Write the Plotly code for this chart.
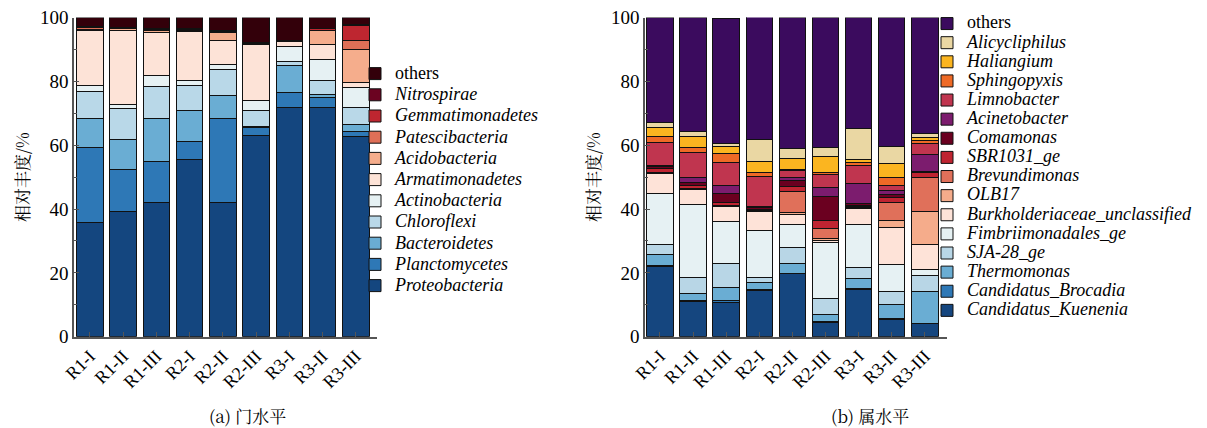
import plotly.graph_objects as go

samples = ["R1-I", "R1-II", "R1-III", "R2-I", "R2-II", "R2-III", "R3-I", "R3-II", "R3-III"]

# ---- (a) phylum level, bottom -> top
phylum_names = ["Proteobacteria", "Planctomycetes", "Bacteroidetes", "Chloroflexi", "Actinobacteria",
                "Armatimonadetes", "Acidobacteria", "Patescibacteria", "Gemmatimonadetes", "Nitrospirae", "others"]
proteobacteria = [35.9, 39.3, 42.0, 55.5, 42.0, 63.0, 71.9, 71.9, 62.7]
planctomycetes = [23.4, 13.2, 12.9, 5.6, 26.5, 2.6, 4.5, 2.9, 1.6]
bacteroidetes = [9.2, 9.4, 13.4, 9.7, 7.2, 0.2, 8.5, 1.2, 2.1]
chloroflexi = [8.3, 9.6, 10.2, 7.95, 7.9, 5.0, 1.35, 4.4, 5.5]
actinobacteria = [1.95, 1.3, 3.4, 1.65, 1.7, 3.3, 4.75, 6.6, 6.3]
armatimonadetes = [17.25, 23.0, 13.4, 15.2, 7.4, 17.6, 1.4, 4.6, 1.5]
acidobacteria = [0.3, 0.8, 0.6, 0.3, 2.5, 0.2, 0.2, 4.2, 10.4]
patescibacteria = [0.6, 0.2, 0.4, 0.3, 0.3, 0.1, 0.1, 0.2, 2.8]
gemmatimonadetes = [0.2, 0.1, 0.1, 0.1, 0.2, 0.1, 0.1, 0.5, 4.5]
nitrospirae = [0.2, 0.1, 0.2, 0.2, 0.1, 0.1, 0.1, 0.2, 0.5]
phylum_others = [2.7, 3.0, 3.4, 3.5, 4.2, 7.8, 7.1, 3.3, 2.1]
phylum_values = [proteobacteria, planctomycetes, bacteroidetes, chloroflexi, actinobacteria,
                 armatimonadetes, acidobacteria, patescibacteria, gemmatimonadetes, nitrospirae, phylum_others]
phylum_colors = ["#14467f", "#2e78b6", "#6aadd3", "#b9d8e8", "#e6f1f3", "#fde3d7",
                 "#f5ad8c", "#df6f57", "#be2630", "#6b0321", "#33000a"]

# ---- (b) genus level, bottom -> top
genus_names = ["Candidatus_Kuenenia", "Candidatus_Brocadia", "Thermomonas", "SJA-28_ge", "Fimbriimonadales_ge",
               "Burkholderiaceae_unclassified", "OLB17", "Brevundimonas", "SBR1031_ge", "Comamonas",
               "Acinetobacter", "Limnobacter", "Sphingopyxis", "Haliangium", "Alicycliphilus", "others"]
kuenenia = [22.0, 11.0, 10.7, 14.6, 19.7, 4.4, 14.8, 5.4, 4.0]
brocadia = [0.3, 0.4, 0.7, 0.3, 0.2, 0.3, 0.3, 0.3, 0.2]
thermomonas = [3.4, 2.1, 3.9, 2.0, 2.9, 2.1, 3.1, 4.4, 10.1]
sja28 = [3.05, 5.2, 7.6, 1.7, 5.0, 5.1, 3.5, 4.2, 5.0]
fimbrii = [16.15, 22.6, 13.2, 14.6, 7.4, 17.6, 13.5, 8.4, 1.6]
burkhold = [6.2, 4.7, 4.8, 6.1, 3.1, 0.6, 5.1, 11.4, 8.1]
olb17 = [0.15, 0.2, 0.1, 0.3, 0.5, 0.6, 0.2, 2.4, 10.1]
brevund = [0.15, 0.2, 0.1, 0.2, 6.7, 3.1, 0.2, 5.4, 10.7]
sbr1031 = [1.2, 0.9, 1.0, 0.2, 1.6, 2.6, 0.5, 1.7, 1.6]
comamonas = [0.6, 1.0, 2.9, 0.6, 1.8, 7.6, 0.4, 1.1, 0.3]
acinetobacter = [0.5, 1.6, 2.4, 0.1, 1.1, 2.6, 6.5, 1.1, 5.4]
limnobacter = [7.1, 7.9, 7.3, 9.6, 2.1, 4.3, 5.6, 1.6, 3.5]
sphingopyxis = [1.9, 1.5, 2.6, 1.0, 0.4, 0.4, 0.8, 2.5, 0.8]
haliangium = [2.9, 3.5, 2.3, 3.5, 3.2, 5.2, 1.1, 4.4, 1.0]
alicycliphilus = [1.5, 1.4, 0.8, 7.1, 3.4, 2.8, 9.7, 5.2, 1.3]
genus_others = [32.8, 35.7, 39.3, 38.3, 40.8, 40.6, 34.7, 40.5, 36.3]
genus_values = [kuenenia, brocadia, thermomonas, sja28, fimbrii, burkhold, olb17, brevund, sbr1031,
                comamonas, acinetobacter, limnobacter, sphingopyxis, haliangium, alicycliphilus, genus_others]
genus_colors = ["#15467f", "#2e78b6", "#6aadd3", "#b8d6e6", "#e6f1f3", "#fee3d8", "#f5ac8b", "#e0705a",
                "#bf2431", "#6b0020", "#7c1c6e", "#c0354f", "#ee6a26", "#fbb520", "#ead7a3", "#3b0b5e"]

FONT = "Times New Roman, Liberation Serif, DejaVu Serif, serif"
CJK = "Noto Serif CJK SC, Noto Sans CJK SC, sans-serif"

W, H = 1207, 428


def px(x):
    return x / W


def py(y):
    return 1 - y / H


fig = go.Figure()


def label(n):
    inner = n if n == "others" else "<i>" + n + "</i>"
    return '<span style="font-size:18px">' + inner + "</span>"


for n, v, c in zip(phylum_names, phylum_values, phylum_colors):
    fig.add_trace(go.Bar(x=samples, y=v, name=label(n), marker=dict(color=c, line=dict(color="#111", width=1)),
                         width=0.8, xaxis="x", yaxis="y", legend="legend"))
for n, v, c in zip(genus_names, genus_values, genus_colors):
    fig.add_trace(go.Bar(x=samples, y=v, name=label(n), marker=dict(color=c, line=dict(color="#111", width=1)),
                         width=0.8, xaxis="x2", yaxis="y2", legend="legend2"))

ydom = [py(336.7), py(17.5)]
xcommon = dict(type="category", showline=True, linecolor="#555", linewidth=1.5, ticks="inside", ticklen=5,
               tickcolor="#555", tickangle=-45, tickfont=dict(family=FONT, size=18, color="#000"),
               showgrid=False, zeroline=False, fixedrange=True, automargin=False)
ycommon = dict(range=[0, 100.001], tickvals=[0, 20, 40, 60, 80, 100], showline=True, linecolor="#555",
               linewidth=1.5, ticks="inside", ticklen=5, tickcolor="#555", showgrid=False, zeroline=False,
               automargin=False, ticklabeloverflow="allow", tickfont=dict(family=FONT, size=19, color="#000"),
               minor=dict(dtick=10, ticks="inside", ticklen=3, tickcolor="#555"), fixedrange=True,
               title=dict(text="相对丰度/%", font=dict(family=CJK, size=17, color="#000"), standoff=6))

fig.update_layout(
    template="none",
    width=W, height=H, margin=dict(l=0, r=0, t=0, b=0, autoexpand=False),
    paper_bgcolor="white", plot_bgcolor="white", barmode="stack", bargap=0.2, showlegend=True,
    hovermode=False,
    xaxis=dict(domain=[px(74), px(377)], range=[-0.48, 8.64], anchor="y", **xcommon),
    yaxis=dict(domain=ydom, anchor="x", **ycommon),
    xaxis2=dict(domain=[px(645), px(947)], range=[-0.45, 8.67], anchor="y2", **xcommon),
    yaxis2=dict(domain=ydom, anchor="x2", **ycommon),
    legend=dict(x=px(355), y=py(58), xanchor="left", yanchor="top", traceorder="reversed", maxheight=420,
                font=dict(family=FONT, size=14, color="#000"), bgcolor="rgba(0,0,0,0)", itemclick=False),
    legend2=dict(x=px(927), y=py(9), xanchor="left", yanchor="top", traceorder="reversed", maxheight=420,
                 font=dict(family=FONT, size=12.4, color="#000"), bgcolor="rgba(0,0,0,0)", itemclick=False),
    annotations=[
        dict(text="(a) 门水平", x=px(247), y=py(415), xref="paper", yref="paper", showarrow=False,
             xanchor="center", yanchor="middle", font=dict(family=CJK, size=17, color="#000")),
        dict(text="(b) 属水平", x=px(870), y=py(415), xref="paper", yref="paper", showarrow=False,
             xanchor="center", yanchor="middle", font=dict(family=CJK, size=17, color="#000")),
    ],
)

fig.write_html("out.html", config={"displayModeBar": False},
               post_script="document.body.style.margin='0';")
